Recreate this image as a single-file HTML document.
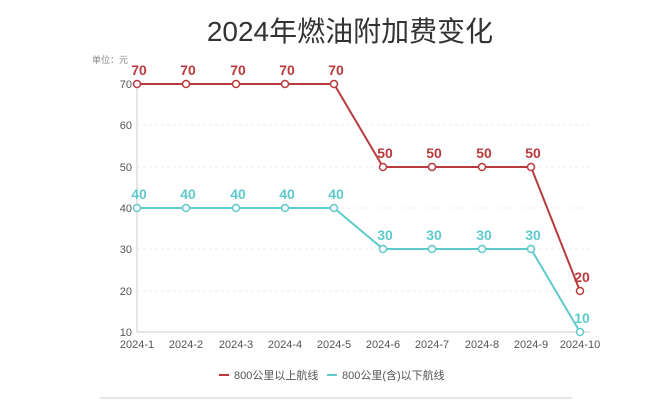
<!DOCTYPE html>
<html><head><meta charset="utf-8"><style>
body{margin:0;background:#fff;}
svg text{font-family:"Liberation Sans","Noto Sans CJK SC",sans-serif;}
</style></head><body>
<svg width="672" height="410" xmlns="http://www.w3.org/2000/svg">
<rect width="672" height="410" fill="#fff"/>
<text x="350" y="41" font-size="28" fill="#333" text-anchor="middle" font-family="'Noto Sans CJK SC',sans-serif">2024年燃油附加费变化</text>
<text x="92" y="63" font-size="9" fill="#888">单位：元</text>
<g stroke="#eee" stroke-width="1" stroke-dasharray="3,3">
<line x1="137" y1="125" x2="590" y2="125"/><line x1="137" y1="167" x2="590" y2="167"/>
<line x1="137" y1="208" x2="590" y2="208"/><line x1="137" y1="249" x2="590" y2="249"/>
<line x1="137" y1="291" x2="590" y2="291"/>
</g>
<line x1="137" y1="80" x2="137" y2="332" stroke="#ccc"/>
<line x1="137" y1="332" x2="590" y2="332" stroke="#ccc"/>
<g font-size="11" fill="#555" text-anchor="end">
<text x="132" y="88">70</text><text x="132" y="129">60</text><text x="132" y="171">50</text>
<text x="132" y="212">40</text><text x="132" y="253">30</text><text x="132" y="295">20</text><text x="132" y="336">10</text>
</g>
<g font-size="11" fill="#555" text-anchor="middle">
<text x="137" y="348">2024-1</text><text x="186" y="348">2024-2</text><text x="236" y="348">2024-3</text>
<text x="285" y="348">2024-4</text><text x="334" y="348">2024-5</text><text x="383" y="348">2024-6</text>
<text x="432" y="348">2024-7</text><text x="482" y="348">2024-8</text><text x="531" y="348">2024-9</text><text x="580" y="348">2024-10</text>
</g>
<polyline fill="none" stroke="#b93a3c" stroke-width="2" points="137,84 186,84 236,84 285,84 334,84 383,167 432,167 482,167 531,167 580,291"/>
<polyline fill="none" stroke="#5fcacc" stroke-width="2" points="137,208 186,208 236,208 285,208 334,208 383,249 432,249 482,249 531,249 580,332"/>
<g fill="#fff" stroke="#b93a3c" stroke-width="1.5">
<circle cx="137" cy="84" r="3.5"/><circle cx="186" cy="84" r="3.5"/><circle cx="236" cy="84" r="3.5"/><circle cx="285" cy="84" r="3.5"/><circle cx="334" cy="84" r="3.5"/>
<circle cx="383" cy="167" r="3.5"/><circle cx="432" cy="167" r="3.5"/><circle cx="482" cy="167" r="3.5"/><circle cx="531" cy="167" r="3.5"/><circle cx="580" cy="291" r="3.5"/>
</g>
<g fill="#fff" stroke="#5fcacc" stroke-width="1.5">
<circle cx="137" cy="208" r="3.5"/><circle cx="186" cy="208" r="3.5"/><circle cx="236" cy="208" r="3.5"/><circle cx="285" cy="208" r="3.5"/><circle cx="334" cy="208" r="3.5"/>
<circle cx="383" cy="249" r="3.5"/><circle cx="432" cy="249" r="3.5"/><circle cx="482" cy="249" r="3.5"/><circle cx="531" cy="249" r="3.5"/><circle cx="580" cy="332" r="3.5"/>
</g>
<g font-size="14" font-weight="bold" fill="#b93a3c" text-anchor="middle">
<text x="139" y="75">70</text><text x="188" y="75">70</text><text x="238" y="75">70</text><text x="287" y="75">70</text><text x="336" y="75">70</text>
<text x="385" y="158">50</text><text x="434" y="158">50</text><text x="484" y="158">50</text><text x="533" y="158">50</text><text x="582" y="282">20</text>
</g>
<g font-size="14" font-weight="bold" fill="#5fcacc" text-anchor="middle">
<text x="139" y="199">40</text><text x="188" y="199">40</text><text x="238" y="199">40</text><text x="287" y="199">40</text><text x="336" y="199">40</text>
<text x="385" y="240">30</text><text x="434" y="240">30</text><text x="484" y="240">30</text><text x="533" y="240">30</text><text x="582" y="323">10</text>
</g>
<line x1="219" y1="375" x2="229" y2="375" stroke="#b93a3c" stroke-width="2"/>
<text x="234" y="379" font-size="11" fill="#555">800公里以上航线</text>
<line x1="327" y1="375" x2="337" y2="375" stroke="#5fcacc" stroke-width="2"/>
<text x="342" y="379" font-size="11" fill="#555">800公里(含)以下航线</text>
<line x1="100" y1="398" x2="572" y2="398" stroke="#e6e6e6" stroke-width="2"/>
</svg>
</body></html>
